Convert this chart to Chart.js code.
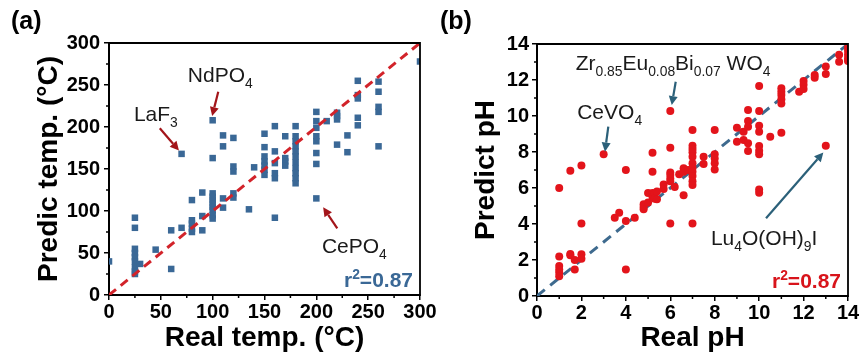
<!DOCTYPE html>
<html>
<head>
<meta charset="utf-8">
<script src="https://cdn.jsdelivr.net/npm/chart.js@4.4.0/dist/chart.umd.min.js"></script>
<style>
  html, body { margin: 0; padding: 0; background: #fff; }
  #wrap { position: relative; width: 862px; height: 354px; overflow: hidden; }
  canvas { position: absolute; top: 0; }
  #chartA { left: 0; z-index: 2; }
  #chartB { left: 430px; z-index: 1; }
</style>
</head>
<body>
<div id="wrap">
  <canvas id="chartB" width="432" height="354"></canvas>
  <canvas id="chartA" width="445" height="354"></canvas>
</div>
<script>
const FONT = "'Liberation Sans', Arial, Helvetica, sans-serif";
Chart.defaults.font.family = FONT;

// (a) synthesis temperature, real vs predicted (°C)
const tempReal = [
  0,
  25, 25, 25, 25, 25, 25, 25, 25, 25, 30,
  45, 60, 60, 70, 70,
  80, 80, 80, 80, 80,
  90, 90, 90,
  100, 100, 100, 100, 100, 100, 100, 100, 100, 100,
  110, 110, 110, 110,
  120, 120, 120, 120, 120,
  135, 140,
  150, 150, 150, 150, 150, 150, 150,
  160, 160, 160, 160, 160, 160,
  170, 170, 170, 170,
  180, 180, 180, 180, 180, 180, 180, 180, 180, 180, 180,
  200, 200, 200, 200, 200, 200, 200, 200,
  210,
  220, 220, 220, 220,
  230, 230,
  240, 240, 240, 240, 240,
  260, 260, 260, 260, 260,
  300
];
const tempPred = [
  40,
  92, 80, 55, 50, 45, 40, 33, 28, 25, 37,
  54, 31, 77, 80, 168,
  113, 89, 85, 79, 75,
  122, 94, 77,
  208, 163, 121, 117, 113, 109, 105, 101, 95, 91,
  190, 177, 115, 104,
  187, 153, 147, 121, 116,
  102, 152,
  192, 176, 165, 159, 154, 149, 143,
  201, 171, 157, 145, 139, 92,
  189, 163, 159, 154,
  201, 189, 183, 177, 171, 165, 158, 151, 145, 139, 133,
  218, 207, 199, 189, 183, 169, 156, 115,
  207,
  217, 213, 209, 179,
  190, 170,
  255, 238, 234, 211, 202,
  254, 242, 224, 218, 177,
  278
];
const tempTicks = [0, 50, 100, 150, 200, 250, 300];
const tempIdeal = [0, 300];

// (b) solution pH, real vs predicted
const phReal = [
  1, 1, 1, 1, 1, 1,
  1.5, 1.5, 1.5, 1.7, 1.7,
  2, 2, 2, 2,
  3, 3.5, 3.7,
  4, 4, 4, 4.4,
  4.8, 4.8, 4.8, 5, 5,
  5.2, 5.2, 5.2, 5.2, 5.3, 5.3, 5.4, 5.4,
  5.7, 5.7,
  6, 6, 6, 6, 6, 6, 6,
  6.2, 6.4, 6.6, 6.6, 6.6, 6.8,
  7, 7, 7, 7, 7, 7, 7, 7, 7, 7, 7, 7,
  7.5, 7.5,
  8, 8, 8, 8, 8,
  9, 9, 9.3, 9.3,
  9.5, 9.5, 9.5, 9.5, 9.5,
  10, 10, 10, 10, 10, 10, 10, 10, 10,
  10.5,
  11, 11, 11, 11, 11, 11,
  11.8, 12, 12, 12,
  12.5, 12.5,
  13, 13, 13,
  13.6, 13.6,
  14, 14, 14, 14, 14
];
const phPred = [
  6.0, 2.2, 1.67, 1.47, 1.3, 1.1,
  6.96, 2.33, 2.26, 2.0, 1.47,
  7.25, 4.03, 2.32, 2.07,
  7.88, 4.35, 4.62,
  7.0, 4.16, 1.47, 4.35,
  5.1, 4.95, 4.82, 5.72, 5.2,
  7.96, 6.9, 5.72, 5.5, 5.7, 5.4, 5.8, 5.38,
  6.2, 5.95,
  10.28, 8.24, 6.86, 6.72, 6.53, 6.38, 4.03,
  6.06, 6.77, 7.1, 6.9, 5.6, 7.0,
  9.22, 8.35, 8.16, 7.98, 7.74, 7.37, 7.12, 6.9, 6.66, 6.38, 6.16, 4.03,
  7.74, 7.33,
  9.22, 7.87, 7.64, 7.37, 7.03,
  9.35, 8.57, 9.13, 8.66,
  10.33, 9.72, 9.4, 8.48, 8.05,
  11.67, 10.28, 9.46, 9.13, 8.33, 8.07, 7.87, 5.92, 5.73,
  8.85,
  11.54, 11.35, 11.17, 10.93, 10.7, 9.07,
  11.35, 11.95, 11.73, 11.5,
  12.28, 12.13,
  12.75, 12.34, 8.35,
  13.4, 13.02,
  13.8, 13.62, 13.4, 13.2, 13.06
];
const phTicks = [0, 2, 4, 6, 8, 10, 12, 14];
const phIdeal = [0, 14];

const r2Temp = '0.87';
const r2Ph = '0.87';

// labelled outliers: text anchor, arrow tail and arrow head in data units
const notesA = [
  { parts: ['LaF', '_3'], at: [24, 207], tail: [49, 198.5], head: [67.5, 172] },
  { parts: ['NdPO', '_4'], at: [76, 253.5], tail: [105.4, 242], head: [99.5, 213] },
  { parts: ['CePO', '_4'], at: [205.4, 50], tail: [220.2, 79.4], head: [206.6, 104.4] }
];
const notesB = [
  { parts: ['Zr', '_0.85', 'Eu', '_0.08', 'Bi', '_0.07', ' WO', '_4'], at: [1.74, 12.56], tail: [6.245, 11.9], head: [6.065, 10.61] },
  { parts: ['CeVO', '_4'], at: [1.81, 9.83], tail: [3.21, 9.41], head: [3.06, 8.02] },
  { parts: ['Lu', '_4', 'O(OH)', '_9', 'I'], at: [7.83, 2.83], tail: [10.31, 4.32], head: [12.89, 7.97] }
];

const pairs = (xs, ys) => xs.map((x, i) => ({ x, y: ys[i] }));

// text with sub/superscript pieces ("_" = sub, "^" = sup)
function drawRich(ctx, parts, x, y, size, weight, color, align) {
  const segs = parts.map(p => {
    const kind = p[0] === '_' ? 'sub' : p[0] === '^' ? 'sup' : '';
    const text = kind ? p.slice(1) : p;
    const fs = kind ? size * 0.66 : size;
    ctx.font = `${weight} ${fs}px ${FONT}`;
    return { text, kind, fs, w: ctx.measureText(text).width };
  });
  const total = segs.reduce((s, g) => s + g.w, 0);
  let cx = align === 'right' ? x - total : x;
  ctx.fillStyle = color;
  ctx.textAlign = 'left';
  ctx.textBaseline = 'alphabetic';
  segs.forEach(g => {
    ctx.font = `${weight} ${g.fs}px ${FONT}`;
    const dy = g.kind === 'sub' ? size * 0.28 : g.kind === 'sup' ? -size * 0.36 : 0;
    ctx.fillText(g.text, cx, y + dy);
    cx += g.w;
  });
}

function drawArrow(ctx, x1, y1, x2, y2, color) {
  const ang = Math.atan2(y2 - y1, x2 - x1);
  const hl = 9, hw = 4.5;
  const bx = x2 - hl * Math.cos(ang), by = y2 - hl * Math.sin(ang);
  ctx.strokeStyle = color;
  ctx.fillStyle = color;
  ctx.lineWidth = 2.2;
  ctx.beginPath();
  ctx.moveTo(x1, y1);
  ctx.lineTo(bx, by);
  ctx.stroke();
  ctx.beginPath();
  ctx.moveTo(x2, y2);
  ctx.lineTo(bx + hw * Math.sin(ang), by - hw * Math.cos(ang));
  ctx.lineTo(bx - hw * Math.sin(ang), by + hw * Math.cos(ang));
  ctx.closePath();
  ctx.fill();
}

// frame, minor ticks, annotations, r² and panel letter
function decor(cfg) {
  return {
    id: 'decor',
    afterDraw(chart) {
      const { ctx, chartArea: { left, right, top, bottom }, scales: { x, y } } = chart;
      ctx.save();
      ctx.strokeStyle = '#000';
      ctx.lineWidth = 1.8;
      ctx.beginPath();
      ctx.moveTo(left - 1, top);
      ctx.lineTo(right, top);
      ctx.lineTo(right, bottom + 1);
      ctx.stroke();

      ctx.lineWidth = 1.5;
      const t = cfg.ticks;
      for (let i = 0; i < t.length - 1; i++) {
        const mid = (t[i] + t[i + 1]) / 2;
        const px = x.getPixelForValue(mid);
        const py = y.getPixelForValue(mid);
        ctx.beginPath();
        ctx.moveTo(px, bottom);
        ctx.lineTo(px, bottom + 3);
        ctx.moveTo(left, py);
        ctx.lineTo(left - 3, py);
        ctx.stroke();
      }

      cfg.notes.forEach(n => {
        drawRich(ctx, n.parts, x.getPixelForValue(n.at[0]), y.getPixelForValue(n.at[1]), 21, 'normal', '#1a1a1a', 'left');
        drawArrow(ctx,
          x.getPixelForValue(n.tail[0]), y.getPixelForValue(n.tail[1]),
          x.getPixelForValue(n.head[0]), y.getPixelForValue(n.head[1]), cfg.arrowColor);
      });

      drawRich(ctx, ['r', '^2', '=' + cfg.r2], right - 7, bottom - 8, 21, 'bold', cfg.r2Color, 'right');
      drawRich(ctx, [cfg.letter], cfg.letterX, 29, 25, 'bold', '#000', 'left');
      ctx.restore();
    }
  };
}

function axis(tickVals, title, titlePad, size, labelPad) {
  const horizontal = titlePad === null;
  return {
    type: 'linear',
    min: tickVals[0],
    max: tickVals[tickVals.length - 1],
    z: 1,
    afterBuildTicks: s => { s.ticks = tickVals.map(v => ({ value: v })); },
    afterFit: s => { if (horizontal) s.height = size; else s.width = size; },
    ticks: {
      color: '#000',
      padding: labelPad,
      maxRotation: 0,
      autoSkip: false,
      font: { size: 20, weight: 'bold' }
    },
    grid: { drawOnChartArea: false, drawTicks: true, tickLength: 5, color: '#000', lineWidth: 1.5 },
    border: { display: true, color: '#000', width: 2 },
    title: {
      display: true,
      text: title,
      color: '#000',
      font: { size: 28, weight: 'bold', lineHeight: 1.1 },
      padding: horizontal ? { top: 0, bottom: 0 } : { top: titlePad, bottom: 0 }
    }
  };
}

function makeChart(id, opt) {
  return new Chart(document.getElementById(id), {
    type: 'scatter',
    data: {
      datasets: [
        {
          data: pairs(opt.xs, opt.ys),
          pointStyle: opt.pointStyle,
          pointRadius: opt.pointRadius,
          backgroundColor: opt.pointColor,
          borderWidth: 0,
          clip: 0,
          order: 1
        },
        {
          type: 'line',
          data: pairs(opt.ideal, opt.ideal),
          borderColor: opt.lineColor,
          borderWidth: 3,
          borderDash: opt.dash,
          pointRadius: 0,
          fill: false,
          order: opt.lineOnTop ? 0 : 2
        }
      ]
    },
    options: {
      responsive: false,
      animation: false,
      layout: { padding: opt.padding },
      plugins: { legend: { display: false }, tooltip: { enabled: false } },
      scales: {
        x: axis(opt.ticks, opt.xTitle, null, opt.xHeight, 0),
        y: axis(opt.ticks, opt.yTitle, opt.yTitlePad, opt.yWidth, opt.yLabelPad)
      }
    },
    plugins: [decor(opt.decor)]
  });
}

makeChart('chartA', {
  xs: tempReal, ys: tempPred, ideal: tempIdeal, ticks: tempTicks,
  pointStyle: 'rect', pointRadius: 4.6, pointColor: '#3a6896',
  lineColor: '#d2232a', dash: [9, 6], lineOnTop: true,
  padding: { top: 43, right: 25, left: 0, bottom: 0 },
  xHeight: 59, yWidth: 109, yTitlePad: 34, yLabelPad: 4,
  xTitle: 'Real temp. (°C)', yTitle: 'Predic temp. (°C)',
  decor: { ticks: tempTicks, notes: notesA, arrowColor: '#a3151a', r2: r2Temp, r2Color: '#3a6896', letter: '(a)', letterX: 11 }
});

makeChart('chartB', {
  xs: phReal, ys: phPred, ideal: phIdeal, ticks: phTicks,
  pointStyle: 'circle', pointRadius: 4, pointColor: '#e3141b',
  lineColor: '#3e6a8e', dash: [10, 7], lineOnTop: false,
  padding: { top: 44, right: 14, left: 0, bottom: 0 },
  xHeight: 58, yWidth: 107, yTitlePad: 41, yLabelPad: 3,
  xTitle: 'Real pH', yTitle: 'Predict pH',
  decor: { ticks: phTicks, notes: notesB, arrowColor: '#2b6079', r2: r2Ph, r2Color: '#d8141b', letter: '(b)', letterX: 10 }
});
</script>
</body>
</html>
